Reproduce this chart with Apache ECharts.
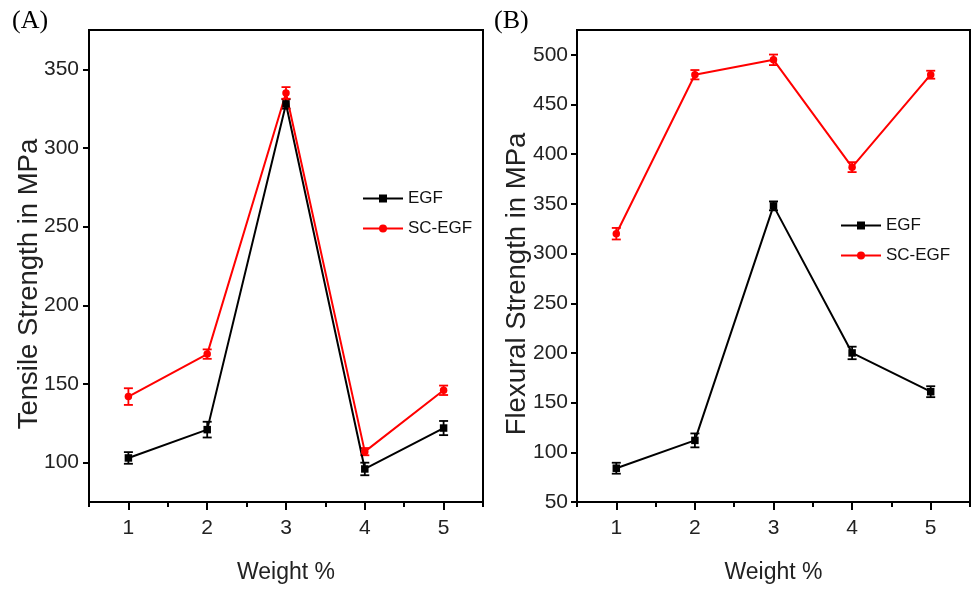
<!DOCTYPE html>
<html><head><meta charset="utf-8">
<script src="https://cdn.jsdelivr.net/npm/echarts@6/dist/echarts.min.js"></script>
<style>html,body{margin:0;padding:0;background:#fff}#c{width:971px;height:589px}</style>
</head><body><div id="c"></div>
<script>
const weights = [1, 2, 3, 4, 5];
const tensileEGF = [103, 121, 328, 96, 122];
const tensileEGFErr = [3.7, 5, 3, 4, 4.5];
const tensileSC = [142, 169, 335, 107, 146];
const tensileSCErr = [5.3, 3, 3.7, 2.3, 3];
const flexEGF = [84, 112, 348, 200, 161];
const flexEGFErr = [5.5, 7, 4.5, 6.3, 5.5];
const flexSC = [320, 480, 495, 387, 480];
const flexSCErr = [5.8, 4.7, 5.3, 5, 4];
const tensileTicks = [100, 150, 200, 250, 300, 350];
const flexTicks = [50, 100, 150, 200, 250, 300, 350, 400, 450, 500];
const xTicks = [1, 2, 3, 4, 5];
const xMinorTicks = [0.5].concat(xTicks.map(v => v + 0.5));

const SANS = "'Liberation Sans', Arial, sans-serif";

const chart = echarts.init(document.getElementById('c'));

function pts(v) { return weights.map((w, i) => [w, v[i]]); }
function errs(v, e) { return weights.map((w, i) => [w, v[i] - e[i], v[i] + e[i]]); }
function errSeries(v, e, color, gi) {
  return {
    type: 'custom', xAxisIndex: gi * 2, yAxisIndex: gi, z: 3,
    data: errs(v, e),
    renderItem: function (params, api) {
      const x = api.value(0);
      const p1 = api.coord([x, api.value(1)]);
      const p2 = api.coord([x, api.value(2)]);
      const w = 4.5;
      const st = { stroke: color, lineWidth: 1.8 };
      return { type: 'group', children: [
        { type: 'line', shape: { x1: p1[0], y1: p1[1], x2: p2[0], y2: p2[1] }, style: st },
        { type: 'line', shape: { x1: p1[0] - w, y1: p1[1], x2: p1[0] + w, y2: p1[1] }, style: st },
        { type: 'line', shape: { x1: p2[0] - w, y1: p2[1], x2: p2[0] + w, y2: p2[1] }, style: st }
      ]};
    }
  };
}
function lineSeries(name, v, color, symbol, gi) {
  return {
    name: name, type: 'line', xAxisIndex: gi * 2, yAxisIndex: gi, z: 4,
    data: pts(v), symbol: symbol, symbolSize: 7.5,
    lineStyle: { color: color, width: 2 }, itemStyle: { color: color },
    emphasis: { disabled: true }, animation: false
  };
}
function xAxes(gi) {
  return [{
    type: 'value', gridIndex: gi, min: 0.5, max: 5.5, position: 'bottom',
    name: 'Weight %', nameLocation: 'middle', nameGap: 59, nameMoveOverlap: false,
    nameTextStyle: { fontFamily: SANS, fontSize: 23, color: '#222' },
    axisLine: { lineStyle: { color: '#000', width: 2 } },
    axisTick: { show: true, inside: false, length: 8, customValues: xTicks, lineStyle: { color: '#000', width: 2 } },
    axisLabel: { customValues: xTicks, margin: 16, fontFamily: SANS, fontSize: 21, color: '#222' },
    splitLine: { show: false }
  }, {
    type: 'value', gridIndex: gi, min: 0.5, max: 5.5, position: 'bottom',
    axisLine: { show: false },
    axisTick: { show: true, inside: false, length: 5, customValues: xMinorTicks, lineStyle: { color: '#000', width: 2 } },
    axisLabel: { show: false }, splitLine: { show: false }
  }];
}
function yAxis(gi, min, max, ticks, name, gap, margin) {
  return {
    type: 'value', gridIndex: gi, min: min, max: max,
    name: name, nameLocation: 'middle', nameRotate: 90, nameGap: gap, nameMoveOverlap: false,
    nameTextStyle: { fontFamily: SANS, fontSize: 27.5, color: '#222', padding: [0, 36, 0, 0] },
    axisLine: { show: true, lineStyle: { color: '#000', width: 2 } },
    axisTick: { show: true, inside: false, length: 6, customValues: ticks, lineStyle: { color: '#000', width: 2 } },
    axisLabel: { customValues: ticks, margin: margin, fontFamily: SANS, fontSize: 21, color: '#222' },
    splitLine: { show: false }
  };
}
function legend(gi, left, top) {
  return {
    orient: 'vertical', left: left, top: top, itemGap: 13, itemWidth: 40, itemHeight: 10,
    data: [{ name: 'EGF' }, { name: 'SC-EGF' }],
    textStyle: { fontFamily: SANS, fontSize: 17, color: '#111', padding: [0, 0, 0, 0] },
    selectedMode: false
  };
}

chart.setOption({
  animation: false,
  backgroundColor: '#fff',
  grid: [
    { left: 89, top: 30, width: 394, height: 473, show: true, borderWidth: 2, borderColor: '#000', backgroundColor: 'transparent' },
    { left: 577, top: 30, width: 393, height: 473, show: true, borderWidth: 2, borderColor: '#000', backgroundColor: 'transparent' }
  ],
  xAxis: xAxes(0).concat(xAxes(1)),
  yAxis: [
    yAxis(0, 75, 375, tensileTicks, 'Tensile Strength in MPa', 46, 10),
    yAxis(1, 50, 525, flexTicks, 'Flexural Strength in MPa', 46, 9)
  ],
  legend: [legend(0, 357, 185), legend(1, 835, 212)],
  graphic: [
    { type: 'text', left: 12, top: 8, style: { text: '(A)', fontFamily: "'Liberation Serif', 'Times New Roman', serif", fontSize: 26, fill: '#000' } },
    { type: 'text', left: 494, top: 8, style: { text: '(B)', fontFamily: "'Liberation Serif', 'Times New Roman', serif", fontSize: 26, fill: '#000' } }
  ],
  series: [
    errSeries(tensileEGF, tensileEGFErr, '#000', 0),
    lineSeries('EGF', tensileEGF, '#000', 'rect', 0),
    errSeries(tensileSC, tensileSCErr, '#ff0000', 0),
    lineSeries('SC-EGF', tensileSC, '#ff0000', 'circle', 0),
    errSeries(flexEGF, flexEGFErr, '#000', 1),
    lineSeries('EGF', flexEGF, '#000', 'rect', 1),
    errSeries(flexSC, flexSCErr, '#ff0000', 1),
    lineSeries('SC-EGF', flexSC, '#ff0000', 'circle', 1)
  ]
});
</script></body></html>
